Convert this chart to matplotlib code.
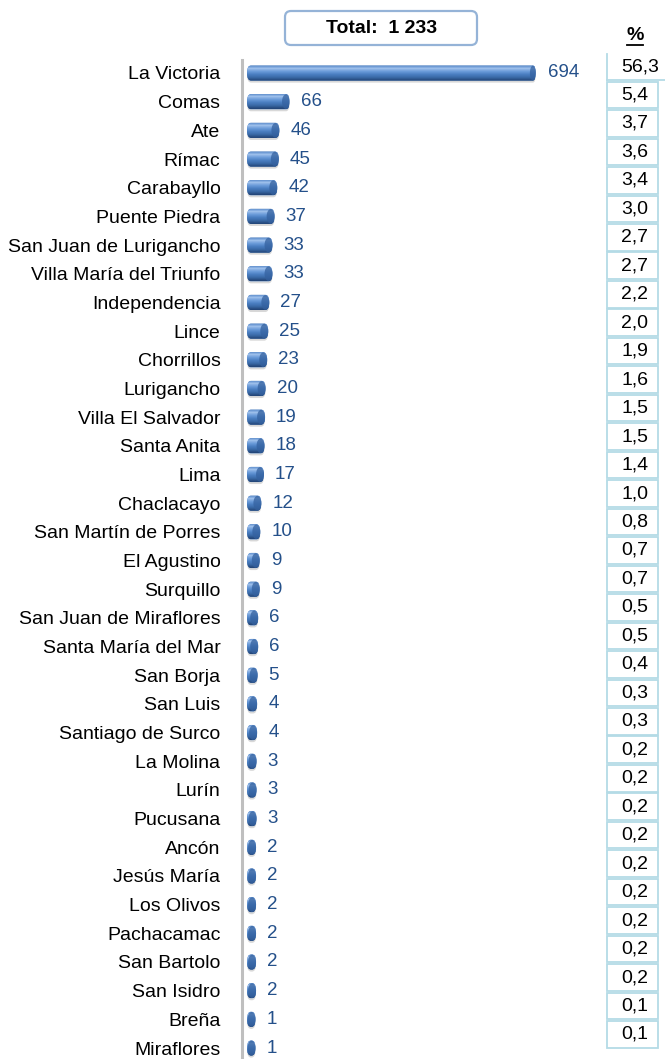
import numpy as np
import matplotlib
matplotlib.use('Agg')
import matplotlib.pyplot as plt
from matplotlib.patches import FancyBboxPatch, Rectangle, Ellipse
from matplotlib.colors import LinearSegmentedColormap

plt.rcParams['font.family'] = ['Liberation Sans', 'DejaVu Sans']

# datos
distritos = ['La Victoria', 'Comas', 'Ate', 'Rímac', 'Carabayllo', 'Puente Piedra',
             'San Juan de Lurigancho', 'Villa María del Triunfo', 'Independencia', 'Lince',
             'Chorrillos', 'Lurigancho', 'Villa El Salvador', 'Santa Anita', 'Lima',
             'Chaclacayo', 'San Martín de Porres', 'El Agustino', 'Surquillo',
             'San Juan de Miraflores', 'Santa María del Mar', 'San Borja', 'San Luis',
             'Santiago de Surco', 'La Molina', 'Lurín', 'Pucusana', 'Ancón', 'Jesús María',
             'Los Olivos', 'Pachacamac', 'San Bartolo', 'San Isidro', 'Breña', 'Miraflores']
casos = [694, 66, 46, 45, 42, 37, 33, 33, 27, 25, 23, 20, 19, 18, 17, 12, 10, 9, 9,
         6, 6, 5, 4, 4, 3, 3, 3, 2, 2, 2, 2, 2, 2, 1, 1]
porcentaje = ['56,3', '5,4', '3,7', '3,6', '3,4', '3,0', '2,7', '2,7', '2,2', '2,0',
              '1,9', '1,6', '1,5', '1,5', '1,4', '1,0', '0,8', '0,7', '0,7', '0,5',
              '0,5', '0,4', '0,3', '0,3', '0,2', '0,2', '0,2', '0,2', '0,2', '0,2',
              '0,2', '0,2', '0,2', '0,1', '0,1']
total = '1 233'

W, H = 665, 1059
fig = plt.figure(figsize=(W / 100, H / 100), dpi=100)

# eje x comprimido por encima de T (la barra de La Victoria va recortada)
T, R = 70, 0.74
def fwd(x):
    x = np.asarray(x, dtype=float)
    return np.where(x <= T, x, T + (x - T) * R)
def inv(y):
    y = np.asarray(y, dtype=float)
    return np.where(y <= T, y, T + (y - T) / R)

ax = fig.add_axes([242 / W, 0, (600 - 242) / W, 999 / H])
ax.set_xscale('function', functions=(fwd, inv))

cmap = LinearSegmentedColormap.from_list(
    'cil', ['#5587c8', '#9dbfeb', '#6a9bd9', '#4a7ec1', '#3a69a6', '#24477a'])
grad = np.linspace(0, 1, 64).reshape(-1, 1)

c = 7.5      # media tapa en unidades de x
h = 0.53     # alto de barra en filas
for i, v in enumerate(casos):
    sombra = FancyBboxPatch((-c, i - h / 2 + 0.07), v + 2 * c, h,
                            boxstyle='round,pad=0,rounding_size=%s' % c,
                            mutation_aspect=(h / 2) / c, fc='#808080', ec='none',
                            alpha=0.3, zorder=1)
    ax.add_patch(sombra)
    forma = FancyBboxPatch((-c, i - h / 2), v + 2 * c, h,
                           boxstyle='round,pad=0,rounding_size=%s' % c,
                           mutation_aspect=(h / 2) / c, fc='#4a7dbf', ec='none', zorder=2)
    ax.add_patch(forma)
    im = ax.imshow(grad, extent=(-c, v + c, i + h / 2, i - h / 2), aspect='auto',
                   cmap=cmap, interpolation='bilinear', zorder=3)
    im.set_clip_path(forma)
    tapa = Ellipse((v, i), 2 * c, h * 0.96, fc='#34619f', ec='none', alpha=0.75, zorder=4)
    ax.add_patch(tapa)
    ax.annotate(str(v), xy=(v, i), xytext=(10.8, 0), textcoords='offset points',
                va='center', ha='left', fontsize=13.5, color='#24508a', zorder=5)

ax.set_xlim(-17, float(inv(658.5)))
ax.set_ylim(34 + 11 / 28.68, -13 / 28.68)
ax.set_yticks(range(len(distritos)))
ax.set_yticklabels(distritos, fontsize=14)
ax.tick_params(axis='y', length=0, pad=15.5)
ax.set_xticks([])
for s in ['top', 'right', 'bottom']:
    ax.spines[s].set_visible(False)
ax.spines['left'].set_color('#bfbfbf')
ax.spines['left'].set_linewidth(2.2)

# tabla de porcentajes
ax2 = fig.add_axes([607 / W, 0, 51 / W, 1])
ax2.set_xlim(0, 1)
ax2.set_ylim((H - 66.5) / 28.47, -66.5 / 28.47)
ax2.axis('off')
borde = '#b4dbe6'
hh = 0.467
for i, p in enumerate(porcentaje):
    if i == 0:
        ax2.plot([0, 0], [-0.44, hh], color=borde, lw=1.3, clip_on=False)
        ax2.plot([0, 58 / 51], [hh, hh], color=borde, lw=1.3, clip_on=False)
    else:
        ax2.add_patch(Rectangle((0, i - hh), 1, 2 * hh, fill=False, ec=borde,
                                lw=1.3, clip_on=False))
    ax2.text(0.28, i, p, ha='left', va='center', fontsize=14, color='black')

ax2.text(0.55, -1.08, '%', ha='center', va='center', fontsize=14, fontweight='bold')
ax2.plot([0.39, 0.71], [-0.76, -0.76], color='black', lw=1.3, clip_on=False)

# recuadro del total
caja = FancyBboxPatch((285 / W, 1 - 45 / H), 192 / W, 34 / H,
                      boxstyle='round,pad=0,rounding_size=%s' % (6 / W),
                      mutation_aspect=W / H, transform=fig.transFigure,
                      fc='white', ec='#95b3d7', lw=1.6)
fig.patches.append(caja)
fig.text(381.5 / W, 1 - 28.5 / H, 'Total:  ' + total, ha='center', va='center',
         fontsize=14, fontweight='bold')

fig.savefig('out.png', dpi=100)
